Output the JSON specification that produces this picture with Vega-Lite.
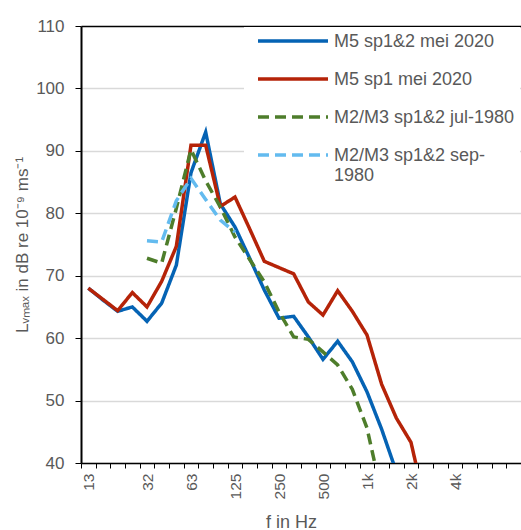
{
  "$schema": "https://vega.github.io/schema/vega-lite/v6.json",
  "autosize": {"type": "none"},
  "padding": {"left": 81, "top": 26, "right": 0, "bottom": 67},
  "width": 440,
  "height": 437,
  "config": {
    "view": {"stroke": null},
    "font": "Liberation Sans"
  },
  "data": {"values": [
    {"s": "M5 sp1&2 mei 2020", "f": "13", "v": 68.0},
    {"s": "M5 sp1&2 mei 2020", "f": "16", "v": 66.1},
    {"s": "M5 sp1&2 mei 2020", "f": "20", "v": 64.3},
    {"s": "M5 sp1&2 mei 2020", "f": "25", "v": 65.0},
    {"s": "M5 sp1&2 mei 2020", "f": "32", "v": 62.7},
    {"s": "M5 sp1&2 mei 2020", "f": "40", "v": 65.6},
    {"s": "M5 sp1&2 mei 2020", "f": "50", "v": 71.7},
    {"s": "M5 sp1&2 mei 2020", "f": "63", "v": 86.5},
    {"s": "M5 sp1&2 mei 2020", "f": "80", "v": 93.0},
    {"s": "M5 sp1&2 mei 2020", "f": "100", "v": 81.5},
    {"s": "M5 sp1&2 mei 2020", "f": "125", "v": 77.8},
    {"s": "M5 sp1&2 mei 2020", "f": "160", "v": 72.8},
    {"s": "M5 sp1&2 mei 2020", "f": "200", "v": 67.7},
    {"s": "M5 sp1&2 mei 2020", "f": "250", "v": 63.2},
    {"s": "M5 sp1&2 mei 2020", "f": "315", "v": 63.5},
    {"s": "M5 sp1&2 mei 2020", "f": "400", "v": 60.2},
    {"s": "M5 sp1&2 mei 2020", "f": "500", "v": 56.6},
    {"s": "M5 sp1&2 mei 2020", "f": "630", "v": 59.5},
    {"s": "M5 sp1&2 mei 2020", "f": "800", "v": 56.2},
    {"s": "M5 sp1&2 mei 2020", "f": "1k", "v": 51.4},
    {"s": "M5 sp1&2 mei 2020", "f": "1.25k", "v": 45.4},
    {"s": "M5 sp1&2 mei 2020", "f": "1.6k", "v": 38.6},
    {"s": "M5 sp1 mei 2020", "f": "13", "v": 68.0},
    {"s": "M5 sp1 mei 2020", "f": "16", "v": 66.2},
    {"s": "M5 sp1 mei 2020", "f": "20", "v": 64.4},
    {"s": "M5 sp1 mei 2020", "f": "25", "v": 67.3},
    {"s": "M5 sp1 mei 2020", "f": "32", "v": 65.0},
    {"s": "M5 sp1 mei 2020", "f": "40", "v": 69.1},
    {"s": "M5 sp1 mei 2020", "f": "50", "v": 74.7},
    {"s": "M5 sp1 mei 2020", "f": "63", "v": 90.9},
    {"s": "M5 sp1 mei 2020", "f": "80", "v": 90.9},
    {"s": "M5 sp1 mei 2020", "f": "100", "v": 81.1},
    {"s": "M5 sp1 mei 2020", "f": "125", "v": 82.6},
    {"s": "M5 sp1 mei 2020", "f": "160", "v": 77.5},
    {"s": "M5 sp1 mei 2020", "f": "200", "v": 72.3},
    {"s": "M5 sp1 mei 2020", "f": "250", "v": 71.3},
    {"s": "M5 sp1 mei 2020", "f": "315", "v": 70.3},
    {"s": "M5 sp1 mei 2020", "f": "400", "v": 65.8},
    {"s": "M5 sp1 mei 2020", "f": "500", "v": 63.7},
    {"s": "M5 sp1 mei 2020", "f": "630", "v": 67.6},
    {"s": "M5 sp1 mei 2020", "f": "800", "v": 64.3},
    {"s": "M5 sp1 mei 2020", "f": "1k", "v": 60.5},
    {"s": "M5 sp1 mei 2020", "f": "1.25k", "v": 52.6},
    {"s": "M5 sp1 mei 2020", "f": "1.6k", "v": 47.2},
    {"s": "M5 sp1 mei 2020", "f": "2k", "v": 43.3},
    {"s": "M5 sp1 mei 2020", "f": "2.5k", "v": 33.0},
    {"s": "M2/M3 sp1&2 jul-1980", "f": "32", "v": 72.8},
    {"s": "M2/M3 sp1&2 jul-1980", "f": "40", "v": 72.0},
    {"s": "M2/M3 sp1&2 jul-1980", "f": "50", "v": 80.8},
    {"s": "M2/M3 sp1&2 jul-1980", "f": "63", "v": 90.2},
    {"s": "M2/M3 sp1&2 jul-1980", "f": "80", "v": 85.2},
    {"s": "M2/M3 sp1&2 jul-1980", "f": "100", "v": 81.0},
    {"s": "M2/M3 sp1&2 jul-1980", "f": "125", "v": 76.2},
    {"s": "M2/M3 sp1&2 jul-1980", "f": "160", "v": 72.6},
    {"s": "M2/M3 sp1&2 jul-1980", "f": "200", "v": 69.0},
    {"s": "M2/M3 sp1&2 jul-1980", "f": "250", "v": 64.2},
    {"s": "M2/M3 sp1&2 jul-1980", "f": "315", "v": 60.2},
    {"s": "M2/M3 sp1&2 jul-1980", "f": "400", "v": 59.8},
    {"s": "M2/M3 sp1&2 jul-1980", "f": "500", "v": 57.8},
    {"s": "M2/M3 sp1&2 jul-1980", "f": "630", "v": 55.7},
    {"s": "M2/M3 sp1&2 jul-1980", "f": "800", "v": 51.8},
    {"s": "M2/M3 sp1&2 jul-1980", "f": "1k", "v": 45.6},
    {"s": "M2/M3 sp1&2 jul-1980", "f": "1.25k", "v": 35.0},
    {"s": "M2/M3 sp1&2 sep-1980", "f": "32", "v": 75.6},
    {"s": "M2/M3 sp1&2 sep-1980", "f": "40", "v": 75.4},
    {"s": "M2/M3 sp1&2 sep-1980", "f": "50", "v": 82.0},
    {"s": "M2/M3 sp1&2 sep-1980", "f": "63", "v": 85.6},
    {"s": "M2/M3 sp1&2 sep-1980", "f": "80", "v": 82.2},
    {"s": "M2/M3 sp1&2 sep-1980", "f": "100", "v": 78.9},
    {"s": "M2/M3 sp1&2 sep-1980", "f": "125", "v": 77.0}
  ]},
  "mark": {"type": "line", "strokeWidth": 3.5, "clip": true},
  "encoding": {
    "x": {
      "field": "f", "type": "ordinal", "sort": null,
      "scale": {"type": "band", "paddingInner": 0, "paddingOuter": 0,
        "domain": ["13","16","20","25","32","40","50","63","80","100","125","160","200","250","315","400","500","630","800","1k","1.25k","1.6k","2k","2.5k","3.15k","4k","5k","6.3k","8k","10k"]},
      "axis": {
        "title": "f in Hz",
        "titleFontSize": 18, "titleFontWeight": "normal", "titleColor": "#595959",
        "titleX": 210, "titleY": 64, "titleBaseline": "alphabetic", "titleAlign": "center", "titleAnchor": null,
        "labelAngle": -90, "labelFontSize": 15.5, "labelColor": "#595959",
        "labelExpr": "indexof(['13','32','63','125','250','500','1k','2k','4k'], datum.value) >= 0 ? datum.value : ''",
        "labelPadding": 5, "tickSize": 5, "tickBand": "extent", "tickColor": "#000", "tickWidth": 1,
        "domainColor": "#000", "domainWidth": 1.5, "grid": false, "labelOverlap": false
      }
    },
    "y": {
      "field": "v", "type": "quantitative",
      "scale": {"domain": [40, 110], "nice": false, "zero": false},
      "axis": {
        "title": "Lᵥₘₐₓ in dB re 10⁻⁹ ms⁻¹",
        "titleFontSize": 17, "titleFontWeight": "normal", "titleColor": "#595959", "titlePadding": 4,
        "values": [40, 50, 60, 70, 80, 90, 100, 110],
        "labelFontSize": 17, "labelColor": "#595959", "labelPadding": 11,
        "tickSize": 6, "tickColor": "#000", "domainColor": "#000", "domainWidth": 2,
        "grid": true, "gridWidth": 1.3,
        "gridColor": {"condition": {"test": "datum.value === 110", "value": "#000"}, "value": "#D9D9D9"}
      }
    },
    "color": {
      "field": "s", "type": "nominal",
      "scale": {"domain": ["M5 sp1&2 mei 2020", "M5 sp1 mei 2020", "M2/M3 sp1&2 jul-1980", "M2/M3 sp1&2 sep-1980"],
                "range": ["#0563B4", "#B52308", "#4E7D2B", "#63BBEF"]},
      "legend": {
        "title": null, "orient": "none", "legendX": 163, "legendY": 1,
        "fillColor": "white", "padding": 5,
        "symbolType": "M0,0H10", "symbolSize": 196, "symbolStrokeWidth": 3.5,
        "labelFontSize": 18, "labelColor": "#595959", "labelLimit": 300, "labelOffset": 67,
        "labelBaseline": "alphabetic",
        "rowPadding": 19,
        "labelExpr": "datum.label == 'M2/M3 sp1&2 sep-1980' ? ['M2/M3 sp1&2 sep-', '1980'] : datum.label",
        "encode": {"labels": {"update": {"dy": {"value": 6}}}}
      }
    },
    "strokeDash": {
      "field": "s", "type": "nominal",
      "scale": {"domain": ["M5 sp1&2 mei 2020", "M5 sp1 mei 2020", "M2/M3 sp1&2 jul-1980", "M2/M3 sp1&2 sep-1980"],
                "range": [[1, 0], [1, 0], [11, 6], [11, 6]]},
      "legend": null
    }
  }
}
